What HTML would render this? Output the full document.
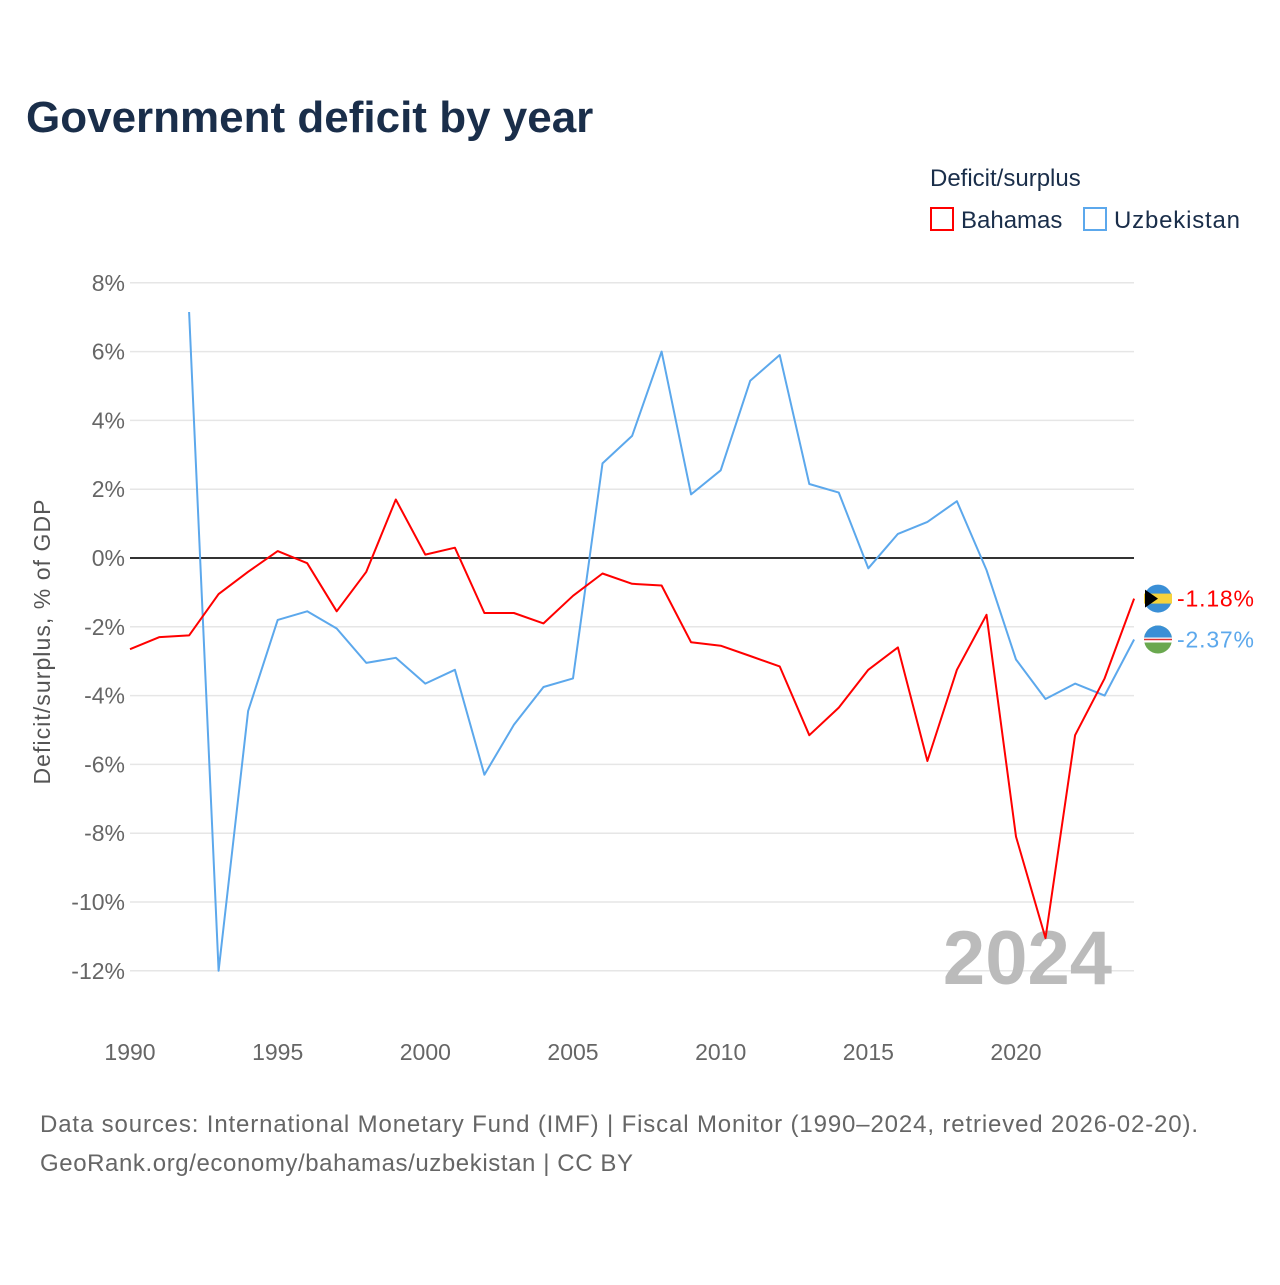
<!DOCTYPE html>
<html><head><meta charset="utf-8"><style>
body{margin:0;background:#fff;font-family:"Liberation Sans",sans-serif;}
</style></head><body>
<svg id="chart" width="1280" height="1280" xmlns="http://www.w3.org/2000/svg" font-family="Liberation Sans, sans-serif">
<rect width="1280" height="1280" fill="#fff"/>
<text x="26" y="132" font-size="44" font-weight="bold" fill="#1a2e4a">Government deficit by year</text>
<text x="930" y="186" font-size="24" fill="#1a2e4a">Deficit/surplus</text>
<g><rect x="931" y="208" width="22" height="22" fill="none" stroke="#ff0000" stroke-width="2"/><text x="961" y="228" font-size="24" fill="#1a2e4a">Bahamas</text></g>
<g><rect x="1084" y="208" width="22" height="22" fill="none" stroke="#5ca8ec" stroke-width="2"/><text x="1114" y="228" font-size="24" fill="#1a2e4a" textLength="126">Uzbekistan</text></g>
<g id="grid"></g><g id="yticks"></g><g id="xticks"></g>
<text transform="translate(50,642) rotate(-90)" text-anchor="middle" font-size="23" fill="#555" textLength="285">Deficit/surplus, % of GDP</text>
<text x="1112" y="984" text-anchor="end" font-size="76" font-weight="bold" fill="#bbb">2024</text>
<g id="series"></g>
<text x="40" y="1132" font-size="24" fill="#666" textLength="1158">Data sources: International Monetary Fund (IMF) | Fiscal Monitor (1990–2024, retrieved 2026-02-20).</text>
<text x="40" y="1171" font-size="24" fill="#666" textLength="593">GeoRank.org/economy/bahamas/uzbekistan | CC BY</text>
</svg>
<script>
const years=[];for(let y=1990;y<=2024;y++)years.push(y);
const bahamas=[-2.65,-2.3,-2.25,-1.05,-0.4,0.2,-0.15,-1.55,-0.4,1.7,0.1,0.3,-1.6,-1.6,-1.9,-1.1,-0.45,-0.75,-0.8,-2.45,-2.55,-2.85,-3.15,-5.15,-4.35,-3.25,-2.6,-5.9,-3.25,-1.65,-8.1,-11.05,-5.15,-3.5,-1.18];
const uzbekistan=[null,null,7.15,-12,-4.45,-1.8,-1.55,-2.05,-3.05,-2.9,-3.65,-3.25,-6.3,-4.85,-3.75,-3.5,2.75,3.55,6.0,1.85,2.55,5.15,5.9,2.15,1.9,-0.3,0.7,1.05,1.65,-0.35,-2.95,-4.1,-3.65,-4.0,-2.37];
const yTicks=[8,6,4,2,0,-2,-4,-6,-8,-10,-12];
const xTicks=[1990,1995,2000,2005,2010,2015,2020];
const NS="http://www.w3.org/2000/svg";
const X=y=>130+(y-1990)*(1016-130)/30;
const Y=v=>558-v*34.4;
function mk(t,a,p){const e=document.createElementNS(NS,t);for(const k in a)e.setAttribute(k,a[k]);p.appendChild(e);return e;}
const grid=document.getElementById('grid'),yt=document.getElementById('yticks'),xt=document.getElementById('xticks'),ser=document.getElementById('series');
yTicks.forEach(v=>{
 const l=mk('line',{x1:130,x2:1134,y1:Y(v),y2:Y(v),stroke:v===0?'#333':'#e6e6e6','stroke-width':v===0?2:1.5},grid);
 
 
 const t=mk('text',{x:125,y:Y(v)+8,'text-anchor':'end','font-size':23,fill:'#666'},yt);t.textContent=v+'%';
 
 
});
xTicks.forEach(v=>{
 const t=mk('text',{x:X(v),y:1060,'text-anchor':'middle','font-size':23,fill:'#666'},xt);t.textContent=v;
 
 
});
function line(data,color,name){
 let d='';data.forEach((v,i)=>{if(v===null)return;d+=(d?'L':'M')+X(years[i]).toFixed(1)+','+Y(v).toFixed(1);});
 const p=mk('path',{d:d,fill:'none',stroke:color,'stroke-width':2,'stroke-linejoin':'round'},ser);
 
 
}
line(uzbekistan,'#5ca8ec','uzbekistan-line');
line(bahamas,'#ff0000','bahamas-line');
function endLabel(v,color,name,fl){
 const yy=Y(v);
 const g=mk('g',{},ser);
 
 
 if(fl==='bs'){mk('circle',{cx:1158,cy:yy,r:14,fill:'#3a8fd6'},g);mk('rect',{x:1144,y:yy-5,width:28,height:10,fill:'#f5d23c'},g);mk('path',{d:`M1145,${yy-9}L1158,${yy}L1145,${yy+9}Z`,fill:'#000'},g);}
 else{mk('circle',{cx:1158,cy:yy,r:14,fill:'#6aa84f'},g);mk('path',{d:`M1144,${yy}A14,14 0 0 1 1172,${yy}Z`,fill:'#3a8fd6'},g);mk('rect',{x:1144,y:yy-2,width:28,height:5,fill:'#fff'},g);mk('line',{x1:1144,x2:1172,y1:yy,y2:yy,stroke:'#d33','stroke-width':1.5},g);}
 const t=mk('text',{x:1177,y:yy+8,'font-size':23,fill:color,textLength:77},g);t.textContent=v.toFixed(2)+'%';
}
endLabel(bahamas[bahamas.length-1],'#ff0000','bahamas-end-label','bs');
endLabel(uzbekistan[uzbekistan.length-1],'#5ca8ec','uzbekistan-end-label','uz');
</script>
</body></html>
